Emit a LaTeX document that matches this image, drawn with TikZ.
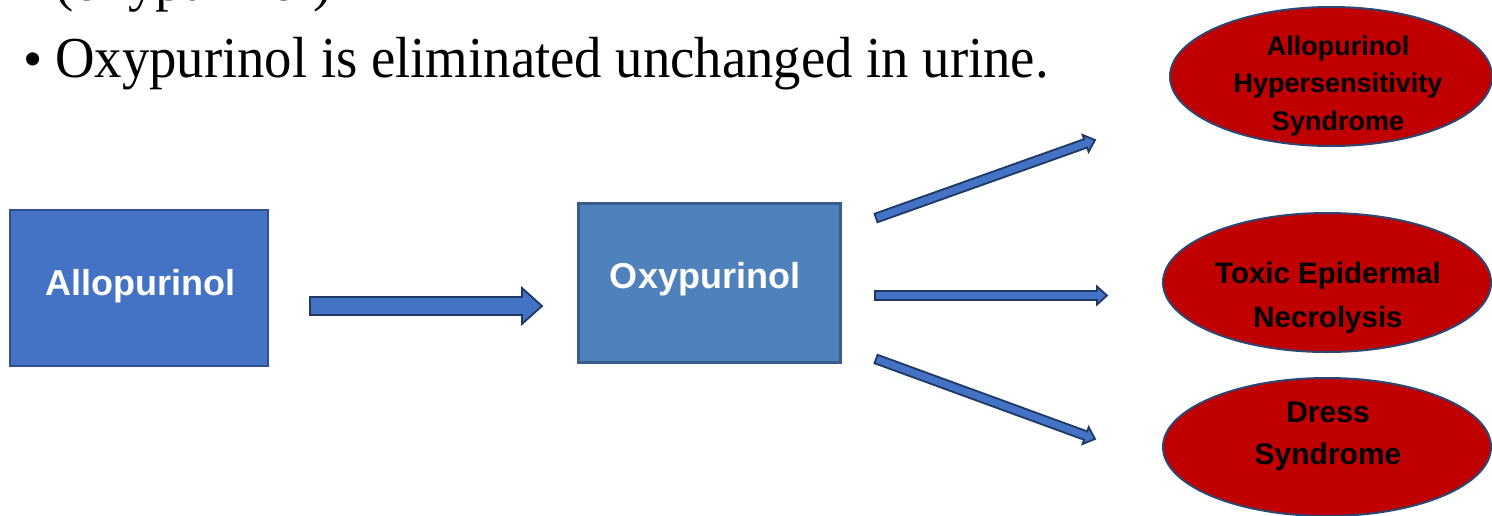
\documentclass[tikz,border=0pt]{standalone}
\usepackage{fontspec}
\setmainfont{Liberation Serif}
\setsansfont{Liberation Sans}
\usetikzlibrary{calc,shapes.geometric}
\definecolor{boxblueA}{HTML}{4472C4}
\definecolor{boxblueB}{HTML}{4F81BD}
\definecolor{edgeA}{HTML}{2F528F}
\definecolor{edgeB}{HTML}{385D8A}
\definecolor{arrowedge}{HTML}{1F3864}
\definecolor{ellred}{HTML}{C00000}
\definecolor{elledge}{HTML}{2E4672}
\tikzset{
  drugbox/.style={rectangle, inner sep=0pt, line width=2pt},
  boxlabel/.style={inner sep=0pt, text=white, font=\sffamily\bfseries\fontsize{36}{40}\selectfont},
  effect/.style={ellipse, fill=ellred, draw=elledge, line width=2pt, inner sep=0pt},
  effectlabel/.style={inner sep=0pt, align=center, text=black},
  blockarrow/.style={fill=boxblueA, draw=arrowedge, line width=1.8pt, line join=miter},
  bodytext/.style={inner sep=0pt, anchor=base west, font=\fontsize{54.7}{60}\selectfont}
}
\newcommand{\blockarrowdraw}[5]{%
  \path ($(#2)!#5!(#1)$) coordinate (hb);
  \draw[blockarrow] ($(#1)!#3!90:(#2)$) -- ($(hb)!#3!90:(#2)$) -- ($(hb)!#4!90:(#2)$) -- (#2)
    -- ($(hb)!#4!-90:(#2)$) -- ($(hb)!#3!-90:(#2)$) -- ($(#1)!#3!-90:(#2)$) -- cycle;}
\begin{document}
\begin{tikzpicture}[x=1pt,y=-1pt]
\useasboundingbox (0,0) rectangle (1492,515);
\clip (0,0) rectangle (1492,515);

% text lines
\node[bodytext] (prev) at (55,0) {(oxypurinol)};
\node[bodytext] (bullet) at (23,77) {•};
\node[bodytext] (line) at (55,77) {\scalebox{1}[1.06]{Oxypurinol is eliminated unchanged in urine.}};

% boxes
\node[drugbox, fill=boxblueA, draw=edgeA, minimum width=258pt, minimum height=156pt] (allo) at (139,288) {};
\node[boxlabel, anchor=base] (allolbl) at ($(allo.center)+(1,7)$) {Allopurinol};
\node[drugbox, fill=boxblueB, draw=edgeB, line width=3pt, minimum width=262pt, minimum height=159pt] (oxy) at (709,282.5) {};
\node[boxlabel, anchor=base] (oxylbl) at ($(oxy.center)+(-4,5.5)$) {Oxypurinol};

% ellipses
\node[effect, minimum width=322pt, minimum height=139pt] (ahs) at (1331,76.5) {};
\node[effectlabel, font=\sffamily\bfseries\fontsize{27}{37.5}\selectfont] (ahslbl) at (1338,85.7) {Allopurinol\\Hypersensitivity\\Syndrome};
\node[effect, minimum width=328pt, minimum height=139pt] (ten) at (1327,282.5) {};
\node[effectlabel, font=\sffamily\bfseries\fontsize{29.5}{44}\selectfont] (tenlbl) at (1328,297.5) {Toxic Epidermal\\Necrolysis};
\node[effect, minimum width=328pt, minimum height=138pt] (dress) at (1327,447) {};
\node[effectlabel, font=\sffamily\bfseries\fontsize{30}{42}\selectfont] (dresslbl) at (1328,436.4) {Dress\\Syndrome};

% arrow end points
\coordinate (a0s) at (310,306);
\coordinate (a0e) at (542,306);
\coordinate (a1s) at (876,218);
\coordinate (a1e) at (1095,140);
\coordinate (a2s) at (875,295.5);
\coordinate (a2e) at (1107,295.5);
\coordinate (a3s) at (876,359);
\coordinate (a3e) at (1095,439);

\blockarrowdraw{a0s}{a0e}{9pt}{18pt}{20pt}
\blockarrowdraw{a1s}{a1e}{4.5pt}{9pt}{10pt}
\blockarrowdraw{a2s}{a2e}{4.5pt}{9pt}{10pt}
\blockarrowdraw{a3s}{a3e}{4.5pt}{9pt}{10pt}
\end{tikzpicture}
\end{document}
